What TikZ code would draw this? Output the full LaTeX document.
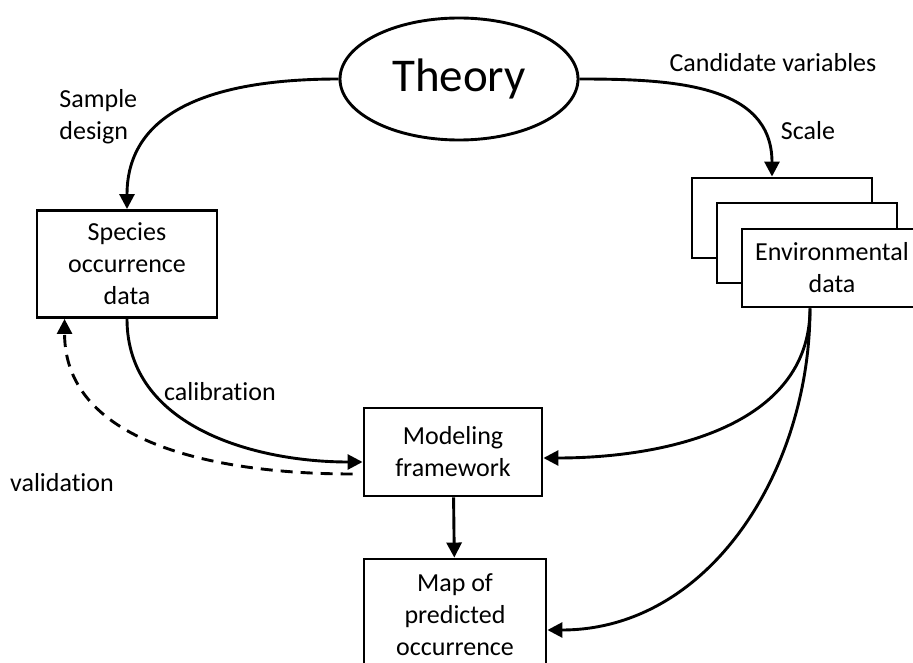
\documentclass[tikz,border=0pt]{standalone}
\usepackage{fontspec}
\setmainfont{Carlito}[Ligatures=NoCommon]
\usetikzlibrary{positioning, shapes.geometric, arrows.meta}

\begin{document}
\begin{tikzpicture}[x=1pt, y=-1pt, on grid, line width=2.9pt,
    font=\fontsize{26}{32}\selectfont,
    box/.style={draw, fill=white, align=center, minimum width=180pt, inner sep=2pt},
    flow/.style={-{Triangle[length=15pt, width=15pt]}},
    lbl/.style={inner sep=0pt}]
    \useasboundingbox (0,0) rectangle (913,663);

    \node[draw, ellipse, minimum width=238pt, minimum height=122pt,
        font=\fontsize{47}{56}\selectfont] (theory) at (459,79) {Theory};
    \node[box, minimum height=107pt] (species) at (127,264) {Species\\occurrence\\data};
    \node[box, minimum width=178pt, minimum height=88pt] (model) at (453,452) {Modeling\\framework};
    \node[box, minimum width=182pt, minimum height=112pt, below=163pt of model, xshift=2pt] (map) {Map of\\predicted\\occurrence};

    % stacked environmental layers
    \node[box, minimum height=80pt] (back1) at (782,218) {};
    \node[box, minimum height=80pt, below right=25pt and 25pt of back1] (back2) {};
    \node[box, minimum height=78pt, below right=25pt and 25pt of back2] (env) {Environmental\\data};
    \coordinate (envout) at ([xshift=-22pt]env.south);

    \node[lbl, anchor=west, align=left] (design) at (58,117) {Sample\\design};
    \node[lbl] (candidates) at (773,63) {Candidate variables};
    \node[lbl] (scale) at (808,131) {Scale};
    \node[lbl] (calib) at (220,392) {calibration};
    \node[lbl] (valid) at (62,483) {validation};

    \path[flow]
    (theory.west) edge[out=180, in=90, looseness=1.1] (species.north)
    (theory.east) edge[out=0, in=90, looseness=1.1] ([xshift=-10pt]back1.north)
    (species.south) edge[out=-90, in=180] ([yshift=-10pt]model.west)
    ([xshift=-10pt, yshift=-22pt]model.west) edge[dashed, dash pattern=on 12pt off 8pt, out=180, in=-90] ([xshift=29pt]species.south west)
    (envout) edge[out=-90, in=0] ([yshift=-6pt]model.east)
    (envout) edge[out=-90, in=0] ([yshift=-15pt]map.east)
    (model) edge (map);
\end{tikzpicture}
\end{document}
